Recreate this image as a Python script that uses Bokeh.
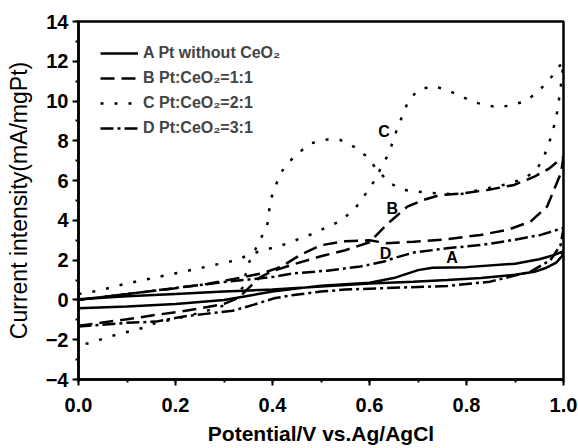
from bokeh.plotting import figure
from bokeh.models import Range1d, SingleIntervalTicker, PrintfTickFormatter, Legend, LegendItem
from bokeh.core.properties import value
from bokeh.embed import file_html
from bokeh.resources import INLINE

# ---- data ----
A_x = [0.0, 0.1, 0.2, 0.3, 0.4, 0.5, 0.6, 0.65, 0.7, 0.73, 0.8, 0.9, 0.95, 0.98, 1.0,
       0.997, 0.985, 0.965, 0.94, 0.9, 0.83, 0.76, 0.69, 0.6, 0.5, 0.4, 0.3, 0.2, 0.1, 0.0]
A_y = [-0.42, -0.33, -0.2, 0.0, 0.42, 0.72, 0.87, 1.1, 1.5, 1.62, 1.65, 1.82, 2.05, 2.25, 2.45,
       2.2, 1.88, 1.62, 1.42, 1.27, 1.1, 1.0, 0.92, 0.83, 0.68, 0.52, 0.42, 0.3, 0.18, 0.03]

B_x = [0.0, 0.1, 0.16, 0.21, 0.25, 0.3, 0.33, 0.355, 0.375, 0.40, 0.45, 0.5, 0.55, 0.6, 0.636,
       0.678, 0.712, 0.746, 0.794, 0.843, 0.898, 0.94, 0.97, 1.0,
       0.995, 0.983, 0.966, 0.932, 0.884, 0.829, 0.76, 0.691, 0.636, 0.6, 0.55, 0.5, 0.46,
       0.43, 0.41, 0.38, 0.32, 0.265, 0.196, 0.128, 0.05, 0.0]
B_y = [-1.3, -0.97, -0.75, -0.59, -0.42, -0.2, 0.1, 0.7, 1.15, 1.45, 1.84, 2.2, 2.5, 2.9, 3.8,
       4.69, 5.03, 5.28, 5.36, 5.53, 5.78, 6.2, 6.6, 7.2,
       6.4, 5.69, 4.69, 3.94, 3.52, 3.27, 3.05, 2.93, 2.85, 3.0, 2.95, 2.75, 2.3,
       1.85, 1.6, 1.35, 1.05, 0.8, 0.58, 0.38, 0.15, 0.0]

C_x = [0.0, 0.039, 0.095, 0.153, 0.204, 0.262, 0.318, 0.369, 0.427, 0.482, 0.536, 0.568, 0.588,
       0.609, 0.623, 0.636, 0.647, 0.656, 0.667, 0.678, 0.698, 0.729, 0.757, 0.784, 0.812, 0.839,
       0.866, 0.894, 0.922, 0.949, 0.973, 0.99, 1.0,
       0.994, 0.99, 0.986, 0.979, 0.971, 0.961, 0.946, 0.92, 0.88, 0.83, 0.784, 0.74, 0.70, 0.671,
       0.643, 0.616, 0.595, 0.568, 0.54, 0.513, 0.478, 0.444, 0.416, 0.396, 0.389, 0.375, 0.361,
       0.348, 0.34, 0.31, 0.258, 0.2, 0.159, 0.132, 0.076, 0.023, 0.0]
C_y = [0.3, 0.45, 0.8, 1.1, 1.36, 1.66, 1.96, 2.41, 2.81, 3.32, 3.92, 4.52, 5.19,
       5.95, 6.6, 7.2, 7.87, 8.54, 9.21, 9.88, 10.52, 10.75, 10.59, 10.3, 9.97, 9.8,
       9.68, 9.8, 10.0, 10.5, 11.14, 11.72, 11.95,
       10.64, 9.97, 9.3, 8.6, 7.95, 7.29, 6.6, 6.1, 5.8, 5.55, 5.3, 5.36, 5.44, 5.53,
       5.86, 6.53, 7.2, 7.7, 8.04, 8.07, 7.87, 7.2, 6.37, 5.03, 3.72, 3.05, 2.35,
       1.7, 0.67, -0.2, -0.6, -0.95, -1.16, -1.41, -1.76, -2.16, -2.3]

D_x = [0.0, 0.1, 0.16, 0.214, 0.262, 0.318, 0.36, 0.403, 0.444, 0.5, 0.55, 0.623, 0.7, 0.76,
       0.849, 0.932, 0.973, 0.994, 1.0,
       0.997, 0.953, 0.898, 0.829, 0.76, 0.691, 0.65, 0.63, 0.581, 0.513, 0.444, 0.403, 0.38,
       0.3, 0.2, 0.1, 0.0]
D_y = [-1.34, -1.15, -1.09, -0.84, -0.70, -0.54, -0.25, 0.08, 0.25, 0.42, 0.52, 0.59, 0.65, 0.7,
       0.92, 1.42, 2.0, 2.76, 3.6,
       3.6, 3.27, 3.02, 2.76, 2.6, 2.38, 2.1, 1.93, 1.68, 1.47, 1.34, 1.17, 1.1,
       0.9, 0.6, 0.3, 0.0]

series_labels = ["A Pt without CeO\u2082", "B Pt:CeO\u2082=1:1", "C Pt:CeO\u2082=2:1", "D Pt:CeO\u2082=3:1"]

curve_tags = ["A", "B", "C", "D"]
tag_x = [0.77, 0.647, 0.63, 0.633]
tag_y = [2.14, 4.6, 8.46, 2.35]

FONT = "Liberation Sans"

p = figure(frame_width=485, frame_height=358, x_range=Range1d(0, 1.0), y_range=Range1d(-4, 14),
           output_backend="svg", toolbar_location=None,
           min_border_left=78, min_border_right=15, min_border_top=21, min_border_bottom=69,
           background_fill_color="white", border_fill_color="white")

p.xgrid.visible = False
p.ygrid.visible = False
p.outline_line_color = "black"
p.outline_line_width = 2.5
p.outline_line_alpha = 1.0

p.xaxis.ticker = SingleIntervalTicker(interval=0.2, num_minor_ticks=2)
p.xaxis.formatter = PrintfTickFormatter(format="%.1f")
p.yaxis.ticker = SingleIntervalTicker(interval=2, num_minor_ticks=2)

for ax in (p.xaxis[0], p.yaxis[0]):
    ax.axis_line_width = 2.5
    ax.axis_line_color = "black"
    ax.major_tick_line_width = 2
    ax.minor_tick_line_width = 2
    ax.major_tick_line_color = "black"
    ax.minor_tick_line_color = "black"
    ax.major_tick_out = 6
    ax.major_tick_in = 0
    ax.minor_tick_out = 3
    ax.minor_tick_in = 0
    ax.major_label_text_font = FONT
    ax.major_label_text_font_style = "bold"
    ax.major_label_text_font_size = "20px"
    ax.major_label_text_color = "black"
    ax.axis_label_text_font = FONT
    ax.axis_label_text_color = "black"

p.xaxis.axis_label = "Potential/V vs.Ag/AgCl"
p.xaxis.axis_label_text_font_style = "bold"
p.xaxis.axis_label_text_font_size = "21px"
p.xaxis.major_label_standoff = 12
p.xaxis.axis_label_standoff = 7

p.yaxis.axis_label = "Current intensity(mA/mgPt)"
p.yaxis.axis_label_text_font_style = "normal"
p.yaxis.axis_label_text_font_size = "23px"
p.yaxis.major_label_standoff = 4
p.yaxis.axis_label_standoff = 11

lw = 2.5
rA = p.line(A_x, A_y, line_color="black", line_width=lw)
rB = p.line(B_x, B_y, line_color="black", line_width=lw, line_dash="14 7")
rC = p.line(C_x, C_y, line_color="black", line_width=lw, line_dash="3 11")
rD = p.line(D_x, D_y, line_color="black", line_width=lw, line_dash="13 4 3 4")

p.text(x=tag_x, y=tag_y, text=curve_tags, text_font=value(FONT), text_font_style="bold",
       text_font_size="16px", text_align="center", text_baseline="middle", text_color="black")

legend = Legend(items=[LegendItem(label=series_labels[i], renderers=[r])
                       for i, r in enumerate([rA, rB, rC, rD])],
                location="top_left")
legend.border_line_color = None
legend.background_fill_alpha = 0
legend.label_text_font = FONT
legend.label_text_font_style = "bold"
legend.label_text_font_size = "16px"
legend.glyph_width = 38
legend.glyph_height = 20
legend.label_height = 20
legend.spacing = 5
legend.padding = 0
legend.margin = 22
legend.label_standoff = 5
p.add_layout(legend)

open("out.html", "w").write(file_html(p, INLINE))
